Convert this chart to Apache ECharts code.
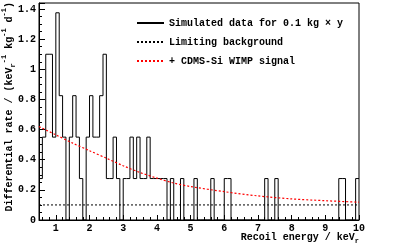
<!DOCTYPE html>
<html>
<head>
<meta charset="utf-8">
<script src="https://cdn.jsdelivr.net/npm/echarts@6/dist/echarts.min.js"></script>
<style>
html,body{margin:0;padding:0;background:#fff;}
#c{width:399px;height:247px;}
</style>
</head>
<body>
<div id="c"></div>
<script>
// ---- data ----
const binEdges = [0.5,0.6,0.7,0.8,0.9,1.0,1.1,1.2,1.3,1.4,1.5,1.6,1.7,1.8,1.9,2.0,2.1,2.2,2.3,2.4,
  2.5,2.6,2.7,2.8,2.9,3.0,3.1,3.2,3.3,3.4,3.5,3.6,3.7,3.8,3.9,4.0,4.1,4.2,4.3,4.4,
  4.5,4.6,4.7,4.8,4.9,5.0,5.1,5.2,5.3,5.4,5.5,5.6,5.7,5.8,5.9,6.0,6.1,6.2,6.3,6.4,
  6.5,6.6,6.7,6.8,6.9,7.0,7.1,7.2,7.3,7.4,7.5,7.6,7.7,7.8,7.9,8.0,8.1,8.2,8.3,8.4,
  8.5,8.6,8.7,8.8,8.9,9.0,9.1,9.2,9.3,9.4,9.5,9.6,9.7,9.8,9.9,10.0];
const simRate = [0.275,0.55,1.1,1.1,0.55,1.375,0.825,0.55,0,0.55,
  0.825,0.55,0.275,0,0.55,0.825,0.55,0.55,0.825,1.1,
  0.275,0.275,0.55,0.275,0,0.275,0.275,0.55,0.275,0.55,
  0.275,0.275,0.55,0.275,0.275,0.275,0.275,0.275,0,0.275,
  0,0,0.275,0,0,0,0.275,0,0,0,
  0,0.275,0,0,0,0.275,0.275,0,0,0,
  0,0,0,0,0,0,0,0.275,0,0,
  0.275,0,0,0,0,0,0,0,0,0,
  0,0,0,0,0,0,0,0,0,0.275,
  0.275,0,0,0,0.275];
const bgEnergy = [0.5, 10];
const bgRate = [0.1, 0.1];
const sigEnergy = [0.5,1,1.5,2,2.5,3,3.5,4,4.5,5,6,7,8,9,10];
const sigRate = [0.62,0.565,0.51,0.46,0.41,0.36,0.315,0.278,0.245,0.222,0.188,0.16,0.14,0.128,0.118];
const seriesNames = ['Simulated data for 0.1 kg \u00d7 y','Limiting background','+ CDMS-Si WIMP signal'];

// ---- build ----
const histData = simRate.map((v,i)=>[binEdges[i], v]);
histData.push([binEdges[binEdges.length-1], simRate[simRate.length-1]]);
const bgData = bgEnergy.map((e,i)=>[e,bgRate[i]]);
const sigData = sigEnergy.map((e,i)=>[e,sigRate[i]]);

const FF = "'Liberation Mono', 'DejaVu Sans Mono', monospace";
const chart = echarts.init(document.getElementById('c'), null, {renderer:'canvas'});
const rich = {
  m:{fontFamily:FF,fontWeight:'bold',fontSize:10,lineHeight:16,fill:'#000',color:'#000'},
  sup:{fontFamily:FF,fontWeight:'bold',fontSize:7,lineHeight:9,verticalAlign:'top',fill:'#000',color:'#000'},
  sub:{fontFamily:FF,fontWeight:'bold',fontSize:7,lineHeight:9,verticalAlign:'bottom',fill:'#000',color:'#000'}
};
chart.setOption({
  animation:false,
  backgroundColor:'#fff',
  grid:{left:39,right:40,top:3,bottom:27,show:true,borderColor:'#000',borderWidth:1,containLabel:false,outerBoundsMode:'none'},
  legend:{
    orient:'vertical',left:131,top:12,itemWidth:27,itemHeight:12,itemGap:7,
    data:seriesNames,
    itemStyle:{opacity:0},
    textStyle:{fontFamily:FF,fontWeight:'bold',fontSize:10,color:'#000',lineHeight:12},
    selectedMode:false
  },
  xAxis:{
    type:'value',min:0.5,max:10,splitNumber:10,
    axisLine:{show:true,lineStyle:{color:'#000',width:1}},
    axisTick:{show:true,inside:true,length:5,lineStyle:{color:'#000'}},
    minorTick:{show:true,splitNumber:5,length:3,lineStyle:{color:'#000'}},
    splitLine:{show:false},
    axisLabel:{showMinLabel:false,margin:3,fontFamily:FF,fontWeight:'bold',fontSize:10,color:'#000'}
  },
  yAxis:{
    type:'value',min:0,max:1.44,interval:0.2,
    axisLine:{show:true,lineStyle:{color:'#000',width:1}},
    axisTick:{show:true,inside:true,length:6,lineStyle:{color:'#000'}},
    minorTick:{show:true,splitNumber:4,length:3,lineStyle:{color:'#000'}},
    splitLine:{show:false},
    axisLabel:{showMaxLabel:false,margin:3,fontFamily:FF,fontWeight:'bold',fontSize:10,color:'#000'}
  },
  series:[
    {name:seriesNames[0],type:'line',step:'end',data:histData,symbol:'none',
     lineStyle:{color:'#000',width:1},itemStyle:{color:'#000'}},
    {name:seriesNames[1],type:'line',data:bgData,symbol:'none',
     lineStyle:{color:'#000',width:1,type:[2,2]},itemStyle:{color:'#000'}},
    {name:seriesNames[2],type:'line',data:sigData,symbol:'none',smooth:0.3,
     lineStyle:{color:'#ff0000',width:1.2,type:[2,2]},itemStyle:{color:'#ff0000'}}
  ],
  graphic:[
    {type:'text',x:359,y:237,style:{
      text:'{m|Recoil energy / keV}{sub|r}',rich:rich,align:'right',verticalAlign:'middle'}},
    {type:'text',x:9,y:2,rotation:Math.PI/2,style:{
      text:'{m|Differential rate / (keV}{sub|r}{sup|-1}{m| kg}{sup|-1}{m| d}{sup|-1}{m|)}',
      rich:rich,align:'right',verticalAlign:'middle'}}
  ]
});
</script>
</body>
</html>
